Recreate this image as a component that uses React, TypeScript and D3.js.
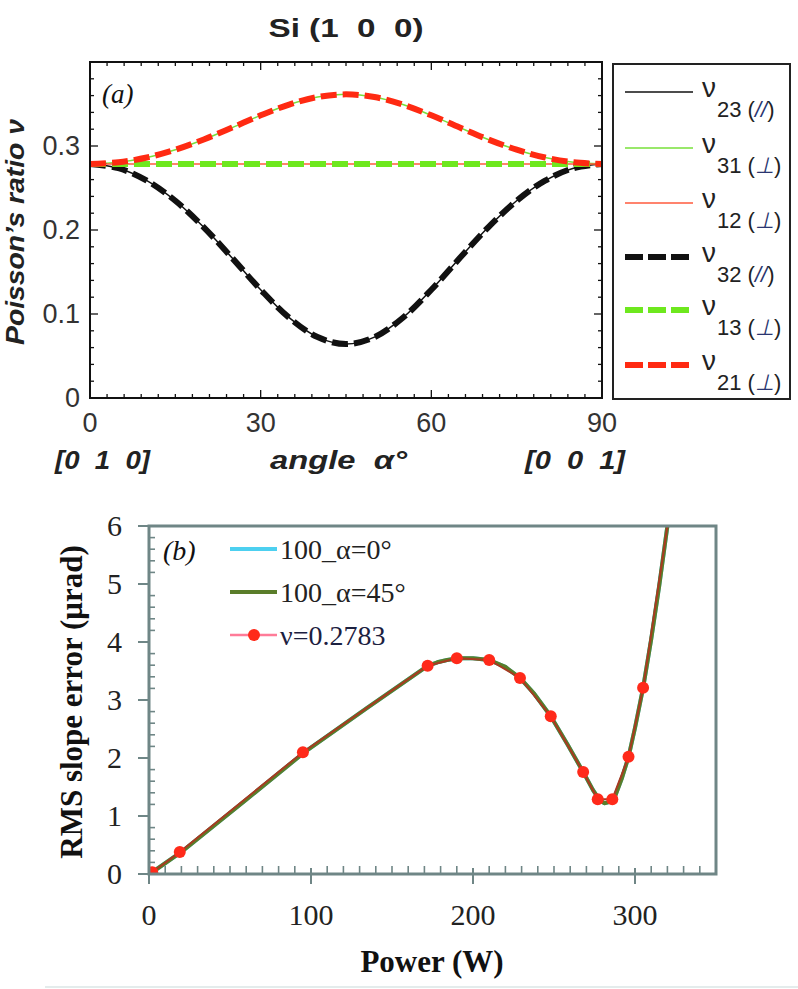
import React from "react";
import * as d3 from "d3";

// ---------- Panel (a) data ----------
const angleDeg = [0, 5, 10, 15, 20, 25, 30, 35, 40, 45, 50, 55, 60, 65, 70, 75, 80, 85, 90];
const nuUpper = [0.2786, 0.2806, 0.2863, 0.2956, 0.3078, 0.3219, 0.3365, 0.3493, 0.3583, 0.3615, 0.3583, 0.3493, 0.3365, 0.3219, 0.3078, 0.2956, 0.2863, 0.2806, 0.2786];
const nuLower = [0.2786, 0.2736, 0.2588, 0.2348, 0.2032, 0.1666, 0.1289, 0.0956, 0.0725, 0.0642, 0.0725, 0.0956, 0.1289, 0.1666, 0.2032, 0.2348, 0.2588, 0.2736, 0.2786];
const nuFlat = [0.2786, 0.2786, 0.2786, 0.2786, 0.2786, 0.2786, 0.2786, 0.2786, 0.2786, 0.2786, 0.2786, 0.2786, 0.2786, 0.2786, 0.2786, 0.2786, 0.2786, 0.2786, 0.2786];
const angleTicks = [0, 30, 60, 90];
const nuTicks = [0, 0.1, 0.2, 0.3];
const nuTickLabels = ["0", "0.1", "0.2", "0.3"];
const legendA = [
  { sub: "23", tag: "//", color: "#111111", dashed: false },
  { sub: "31", tag: "⊥", color: "#77e03a", dashed: false },
  { sub: "12", tag: "⊥", color: "#ff5a3c", dashed: false },
  { sub: "32", tag: "//", color: "#111111", dashed: true },
  { sub: "13", tag: "⊥", color: "#6ee81e", dashed: true },
  { sub: "21", tag: "⊥", color: "#ff2a12", dashed: true },
];

// ---------- Panel (b) data ----------
const powerLine = [2, 20, 60, 96, 134, 172, 178, 184, 191, 200, 210, 220, 229, 238, 248, 258, 268, 274, 278, 281, 284, 288, 292, 296, 300, 305, 310, 315, 320, 326];
const rmsAlpha0 = [0.03, 0.38, 1.28, 2.1, 2.85, 3.59, 3.65, 3.69, 3.72, 3.72, 3.69, 3.57, 3.38, 3.1, 2.72, 2.25, 1.76, 1.45, 1.28, 1.22, 1.24, 1.36, 1.66, 2.02, 2.52, 3.21, 4.05, 4.98, 6.0, 7.1];
const rmsAlpha45 = [0.03, 0.38, 1.28, 2.1, 2.85, 3.59, 3.65, 3.69, 3.72, 3.72, 3.69, 3.57, 3.38, 3.1, 2.72, 2.25, 1.76, 1.45, 1.28, 1.22, 1.24, 1.36, 1.66, 2.02, 2.52, 3.21, 4.05, 4.98, 6.0, 7.1];
const powerMarkers = [2, 19, 95, 172, 190, 210, 229, 248, 268, 277, 286, 296, 305, 320, 326];
const rmsMarkers = [0.03, 0.38, 2.1, 3.59, 3.72, 3.69, 3.38, 2.72, 1.76, 1.29, 1.29, 2.02, 3.21, 6.0, 7.1];
const markerShown = [true, true, true, true, true, true, true, true, true, true, true, true, true, false, false];
const powerTicks = [0, 100, 200, 300];
const rmsTicks = [0, 1, 2, 3, 4, 5, 6];
const legendB = ["100_α=0°", "100_α=45°", "ν=0.2783"];

const SANS = "'Liberation Sans', Arial, sans-serif";
const SERIF = "'Liberation Serif', 'Times New Roman', serif";

export default function App() {
  const xA = d3.scaleLinear().domain([0, 90]).range([90, 602]);
  const yA = d3.scaleLinear().domain([0, 0.4]).range([398, 62]);
  const lineA = (ys: number[]) =>
    d3
      .line<number>()
      .x((_, i) => xA(angleDeg[i]))
      .y((d) => yA(d))
      .curve(d3.curveCatmullRom.alpha(0.5))(ys) as string;

  const xMinorA = d3.range(0, 90.01, 3);
  const yMinorA = d3.range(0, 0.4001, 0.02);

  const xB = d3.scaleLinear().domain([0, 350]).range([149, 716]);
  const yB = d3.scaleLinear().domain([0, 6]).range([874, 526]);
  const lineB = (xs: number[], ys: number[], curve: any) =>
    d3
      .line<number>()
      .x((_, i) => xB(xs[i]))
      .y((d) => yB(d))
      .curve(curve)(ys) as string;
  const xMinorB = d3.range(0, 350.01, 10);
  const yMinorB = d3.range(0, 6.001, 0.2);
  const axisB = "#6f8686";

  const legRowsA = [92, 148, 203, 257, 310, 365];
  const legRowsB = [549, 592, 635];

  return (
    <svg width={798} height={989} style={{ position: "absolute", left: 0, top: 0, background: "#fff" }}>
      <defs>
        <clipPath id="clipB">
          <rect x={149} y={526} width={567} height={348} />
        </clipPath>
      </defs>

      {/* ================= Panel (a) ================= */}
      <text x={346} y={37} textAnchor="middle" fontFamily={SANS} fontWeight="bold" fontSize={26} fill="#222" textLength={155} lengthAdjust="spacingAndGlyphs" style={{ whiteSpace: "pre" }}>
        {"Si (1  0  0)"}
      </text>

      {xMinorA.map((v, i) => {
        const major = angleTicks.some((t) => Math.abs(t - v) < 1e-6);
        const L = major ? 8 : 4;
        return (
          <g key={"xa" + i} stroke="#111" strokeWidth={1.3}>
            <line x1={xA(v)} x2={xA(v)} y1={398} y2={398 - L} />
            <line x1={xA(v)} x2={xA(v)} y1={62} y2={62 + L} />
          </g>
        );
      })}
      {yMinorA.map((v, i) => {
        const major = Math.abs(v * 10 - Math.round(v * 10)) < 1e-6;
        const L = major ? 8 : 4;
        return (
          <g key={"ya" + i} stroke="#111" strokeWidth={1.3}>
            <line x1={90} x2={90 + L} y1={yA(v)} y2={yA(v)} />
            <line x1={602} x2={602 - L} y1={yA(v)} y2={yA(v)} />
          </g>
        );
      })}

      <path d={lineA(nuLower)} fill="none" stroke="#111" strokeWidth={1.5} />
      <path d={lineA(nuUpper)} fill="none" stroke="#77e03a" strokeWidth={1.5} />
      <path d={lineA(nuFlat)} fill="none" stroke="#ff5a3c" strokeWidth={1.5} />
      <path d={lineA(nuLower)} fill="none" stroke="#111" strokeWidth={6} strokeDasharray="16 6" />
      <path d={lineA(nuFlat)} fill="none" stroke="#6ee81e" strokeWidth={6} strokeDasharray="16 6" />
      <path d={lineA(nuUpper)} fill="none" stroke="#ff2a12" strokeWidth={6} strokeDasharray="16 6" />

      <rect x={90} y={62} width={512} height={336} fill="none" stroke="#111" strokeWidth={2} />

      <text x={102} y={103} fontFamily={SERIF} fontStyle="italic" fontSize={27} fill="#111">
        (a)
      </text>

      {nuTicks.map((v, i) => (
        <text key={"yl" + i} x={80} y={yA(v) + 9} textAnchor="end" fontFamily={SANS} fontSize={27} fill="#333">
          {nuTickLabels[i]}
        </text>
      ))}
      {angleTicks.map((v, i) => (
        <text key={"xl" + i} x={xA(v)} y={432} textAnchor="middle" fontFamily={SANS} fontSize={27} fill="#333">
          {String(v)}
        </text>
      ))}

      <text transform="translate(24,232) rotate(-90)" textAnchor="middle" fontFamily={SANS} fontWeight="bold" fontStyle="italic" fontSize={26} fill="#222" textLength={226} lengthAdjust="spacingAndGlyphs">
        Poisson’s ratio ν
      </text>

      <text x={55} y={469} fontFamily={SANS} fontWeight="bold" fontStyle="italic" fontSize={25} fill="#222" textLength={95} lengthAdjust="spacingAndGlyphs" style={{ whiteSpace: "pre" }}>
        {"[0  1  0]"}
      </text>
      <text x={270} y={469} fontFamily={SANS} fontWeight="bold" fontStyle="italic" fontSize={25} fill="#222" textLength={137} lengthAdjust="spacingAndGlyphs" style={{ whiteSpace: "pre" }}>
        {"angle  α°"}
      </text>
      <text x={525} y={469} fontFamily={SANS} fontWeight="bold" fontStyle="italic" fontSize={25} fill="#222" textLength={100} lengthAdjust="spacingAndGlyphs" style={{ whiteSpace: "pre" }}>
        {"[0  0  1]"}
      </text>

      <rect x={613} y={64} width={177} height={335} fill="#fff" stroke="#222" strokeWidth={2} />
      {legendA.map((e, i) => {
        const ly = legRowsA[i];
        return (
          <g key={"la" + i}>
            <line x1={625} x2={693} y1={ly} y2={ly} stroke={e.color} strokeWidth={e.dashed ? 6 : 1.6} strokeDasharray={e.dashed ? "18 5" : undefined} />
            <text x={702} y={ly + 5} fontFamily={SANS} fontSize={28} fill="#222">
              ν
            </text>
            <text x={717} y={ly + 25} fontFamily={SANS} fontSize={22} fill="#222" style={{ whiteSpace: "pre" }}>
              {e.sub + " ("}
              <tspan fontStyle="italic" fill="#2a3570">
                {e.tag}
              </tspan>
              {")"}
            </text>
          </g>
        );
      })}

      {/* ================= Panel (b) ================= */}
      {xMinorB.map((v, i) => {
        const major = powerTicks.some((t) => Math.abs(t - v) < 1e-6);
        return major ? (
          <line key={"xb" + i} x1={xB(v)} x2={xB(v)} y1={868} y2={884} stroke={axisB} strokeWidth={2} />
        ) : (
          <line key={"xb" + i} x1={xB(v)} x2={xB(v)} y1={874} y2={866} stroke={axisB} strokeWidth={1.6} />
        );
      })}
      {yMinorB.map((v, i) => {
        const major = Math.abs(v - Math.round(v)) < 1e-6;
        return major ? (
          <line key={"yb" + i} x1={138} x2={150} y1={yB(v)} y2={yB(v)} stroke={axisB} strokeWidth={2} />
        ) : (
          <line key={"yb" + i} x1={149} x2={155} y1={yB(v)} y2={yB(v)} stroke={axisB} strokeWidth={1.6} />
        );
      })}

      <g clipPath="url(#clipB)">
        <path d={lineB(powerLine, rmsAlpha0, d3.curveLinear)} fill="none" stroke="#4dd0f0" strokeWidth={4} strokeLinejoin="round" />
        <path d={lineB(powerLine, rmsAlpha45, d3.curveLinear)} fill="none" stroke="#5a7d2a" strokeWidth={4} strokeLinejoin="round" />
        <path d={lineB(powerMarkers, rmsMarkers, d3.curveLinear)} fill="none" stroke="#a83a22" strokeWidth={2} />
        {powerMarkers.map((p, i) =>
          markerShown[i] ? <circle key={"m" + i} cx={xB(p)} cy={yB(rmsMarkers[i])} r={6} fill="#ff2a1a" /> : null
        )}
      </g>

      <rect x={149} y={526} width={567} height={348} fill="none" stroke={axisB} strokeWidth={3} />

      <text x={163} y={560} fontFamily={SERIF} fontStyle="italic" fontSize={28} fill="#111">
        (b)
      </text>

      {rmsTicks.map((v, i) => (
        <text key={"ybl" + i} x={122} y={yB(v) + 10} textAnchor="end" fontFamily={SERIF} fontSize={30} fill="#222">
          {String(v)}
        </text>
      ))}
      {powerTicks.map((v, i) => (
        <text key={"xbl" + i} x={xB(v)} y={925} textAnchor="middle" fontFamily={SERIF} fontSize={30} fill="#222">
          {String(v)}
        </text>
      ))}

      <text transform="translate(82,702) rotate(-90)" textAnchor="middle" fontFamily={SERIF} fontWeight="bold" fontSize={31} fill="#111">
        RMS slope error (μrad)
      </text>
      <text x={432} y={972} textAnchor="middle" fontFamily={SERIF} fontWeight="bold" fontSize={31} fill="#111">
        Power (W)
      </text>

      {legendB.map((t, i) => {
        const ly = legRowsB[i];
        const col = i === 0 ? "#4dd0f0" : i === 1 ? "#5a7d2a" : "#ff7b98";
        return (
          <g key={"lb" + i}>
            <line x1={230} x2={277} y1={ly} y2={ly} stroke={col} strokeWidth={i === 2 ? 2.5 : 4} />
            {i === 2 ? <circle cx={254} cy={ly} r={6} fill="#ff2a1a" /> : null}
            <text x={280} y={ly + 10} fontFamily={SERIF} fontSize={28} fill={i === 2 ? "#1c2040" : "#222"}>
              {t}
            </text>
          </g>
        );
      })}

      <line x1={45} x2={798} y1={987} y2={987} stroke="#e4ecec" strokeWidth={2} />
    </svg>
  );
}
